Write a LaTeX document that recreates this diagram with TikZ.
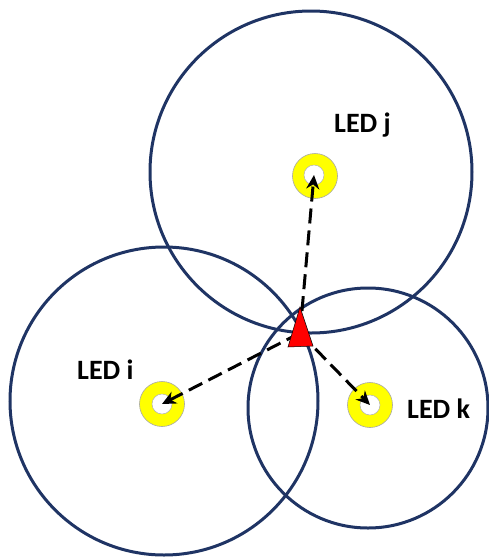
\documentclass[tikz,border=0pt]{standalone}
\usepackage{fontspec}
\setmainfont{Carlito}
\usetikzlibrary{arrows.meta}
\definecolor{navy}{RGB}{31,52,100}
\definecolor{ledyel}{RGB}{255,255,0}
\tikzset{
  rangecirc/.style={draw=navy, line width=3pt},
  led/.style={circle, draw=gray!70, line width=0.6pt, fill=ledyel, minimum size=45pt, inner sep=0pt},
  hole/.style={circle, draw=gray!60, line width=0.5pt, fill=white, minimum size=20pt, inner sep=0pt},
  lbl/.style={font=\bfseries\fontsize{28}{32}\selectfont, inner sep=0pt, anchor=base west},
  ray/.style={draw=black, line width=3pt, dash pattern=on 15pt off 7pt, -{Stealth[length=14pt,width=13pt]}},
}
\begin{document}
\begin{tikzpicture}[x=1pt,y=-1pt]
\useasboundingbox (0,0) rectangle (489,558);
% range circles
\draw[rangecirc] (311,172) circle (161);
\draw[rangecirc] (164,401) circle (154);
\draw[rangecirc] (368,408) circle (120);
% LEDs
\node[led] (ledj) at (315,176) {};
\node[hole] (holej) at (314,175) {};
\node[led] (ledi) at (162,404) {};
\node[hole] (holei) at (162,404) {};
\node[led] (ledk) at (370,405) {};
\node[hole] (holek) at (370,405) {};
% labels
\node[lbl] (tj) at (334,132) {LED j};
\node[lbl] (ti) at (77,379) {LED i};
\node[lbl] (tk) at (407,418) {LED k};
% receiver
\coordinate (rx) at (300,333);
\draw[ray] (rx) -- (holej.center);
\draw[ray] (rx) -- (holei.center);
\draw[ray] (rx) -- (holek.center);
\draw[fill=red, draw=black, line width=0.5pt] (300,307) -- (313,346) -- (288,347) -- cycle;
\end{tikzpicture}
\end{document}
